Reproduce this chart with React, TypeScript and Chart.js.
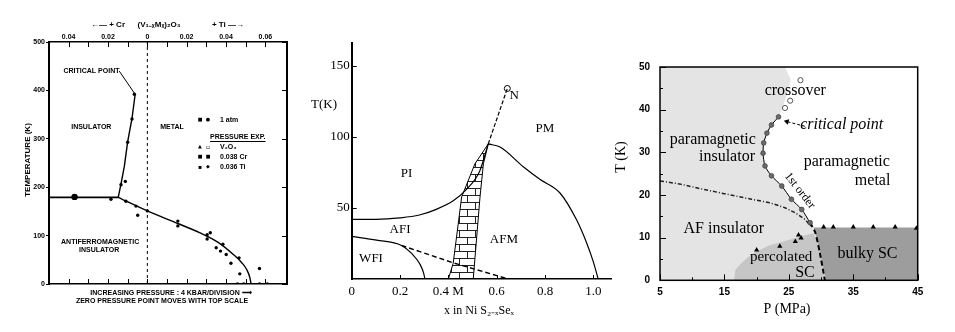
import React, { useEffect, useRef } from 'react';
import { Chart, registerables } from 'chart.js';

Chart.register(...registerables);

const W = 955;
const H = 332;

// ================= Panel 1 : (V1-xMx)2O3 =================
const p1MinorTicks = [-0.04, -0.03, -0.02, -0.01, 0, 0.01, 0.02, 0.03, 0.04, 0.05, 0.06];
const p1TopLabelTicks = [-0.04, -0.02, 0, 0.02, 0.04, 0.06];
const p1TempTicks = [0, 100, 200, 300, 400, 500];
const p1ZeroX = [0, 0];
const p1ZeroT = [0, 500];
const p1AfiX = [-0.05, -0.0148];
const p1AfiT = [179, 179];
const p1MitX = [-0.0148, -0.0135, -0.0117, -0.01, -0.0078, -0.0062];
const p1MitT = [179, 205, 243, 294, 342, 392];
const p1LeaderX = [-0.0062, -0.0143];
const p1LeaderT = [392, 440];
const p1AfX = [-0.0148, 0, 0.0155, 0.0265, 0.036, 0.0437, 0.048, 0.0505, 0.0522, 0.0527];
const p1AfT = [179, 151, 125, 106, 86, 61, 44, 30, 12, 0];
const p1PtsX = [-0.037, -0.0185, -0.0109, -0.0058, -0.0049, 0.0, 0.0155, 0.0155, 0.0304, 0.0304, 0.032, 0.035, 0.0384, 0.0372, 0.0401, 0.0425, 0.0466, 0.047, 0.0458, 0.049, 0.057, 0.057, 0.061, -0.0066, -0.0078, -0.01, -0.0112, -0.0134];
const p1PtsT = [180, 175, 171, 161, 142, 151, 130, 120, 102, 93, 106, 75, 82, 68, 61, 43, 54, 21, 0, 0, 32, 0, 0, 392, 341, 293, 212, 205];

// ================= Panel 2 : NiS2-xSex =================
const p2XTicks = [0, 0.2, 0.4, 0.6, 0.8, 1.0];
const p2XTickLabels = ['0', '0.2', '0.4 M', '0.6', '0.8', '1.0'];
const p2TTicks = [50, 100, 150];
const p2PiX = [0, 0.1, 0.2, 0.28, 0.35, 0.42, 0.475, 0.53, 0.565];
const p2PiT = [42, 42, 43, 45, 49, 55, 63, 76, 95];
const p2PmX = [0.565, 0.614, 0.71, 0.78, 0.862, 0.93, 0.972, 1.0, 1.02];
const p2PmT = [95, 92.8, 79, 70, 60.5, 41.8, 25.5, 12, 0];
const p2NX = [0.565, 0.644];
const p2NT = [95, 134];
const p2WfiX = [0, 0.103, 0.206, 0.248, 0.283, 0.298, 0.303];
const p2WfiT = [30, 27.3, 23.6, 18, 10.3, 4, 0];
const p2AfiX = [0.206, 0.42, 0.648];
const p2AfiT = [23.6, 11.4, 0];
const p2WedgeX = [0.4, 0.42, 0.455, 0.51, 0.565, 0.545, 0.531, 0.503, 0.4];
const p2WedgeT = [0, 11, 57.7, 81, 95, 81, 57.7, 0, 0];

// ================= Panel 3 : P (MPa) =================
const p3PTicks = [5, 15, 25, 35, 45];
const p3PMinor = [10, 20, 30, 40];
const p3TTicks = [0, 10, 20, 30, 40, 50];
const p3TMinor = [5, 15, 25, 35, 45];
const p3InsX = [5, 5, 24.4, 25.3, 24.6, 23.9, 23.4, 22.3, 21.6, 21.1, 21.0, 21.3, 22.3, 23.9, 25.4, 27.0, 28.3, 29.1, 29.8, 30.6];
const p3InsT = [0, 50, 50, 47, 43, 40, 38.3, 36.4, 34.5, 32.2, 29.8, 26.8, 24.5, 22.1, 19.0, 16.6, 13.5, 11.2, 6.5, 0];
const p3PercX = [16.5, 16.7, 17.7, 19.2, 21.8, 24.4, 27.0, 28.8, 29.3, 29.9, 30.8, 16.5];
const p3PercT = [0, 2.5, 4.1, 6.1, 8.1, 9.2, 10.4, 11.0, 9.5, 6.0, 0, 0];
const p3BulkX = [28.8, 45, 45, 30.8, 30.2, 29.6, 29.1, 28.8];
const p3BulkT = [12.4, 12.4, 0, 0, 4, 8, 11, 12.4];
const p3FirstX = [23.4, 22.3, 21.6, 21.1, 21.0, 21.3, 22.3, 23.9, 25.4, 27.0, 28.3];
const p3FirstT = [38.3, 36.4, 34.5, 32.2, 29.8, 26.8, 24.5, 22.1, 19.0, 16.6, 13.5];
const p3LowerX = [28.3, 29.1, 29.8, 30.6];
const p3LowerT = [13.5, 11.2, 6.5, 0];
const p3AfX = [5, 8, 11.5, 15, 19.2, 22, 24.4, 26, 27.5, 28.6];
const p3AfT = [23.3, 22.6, 21.4, 20.3, 19.0, 18.2, 17.0, 15.8, 14.3, 12.4];
const p3CrossX = [24.4, 25.2, 26.8];
const p3CrossT = [40.4, 42.1, 46.9];
const p3BulkTcX = [30.4, 31.9, 35.0, 38.1, 41.5, 44.8];
const p3BulkTcT = [12.5, 12.5, 12.5, 12.5, 12.5, 12.2];
const p3PercTcX = [20.0, 23.6, 26.0, 26.5, 26.9];
const p3PercTcT = [7.1, 8.0, 9.1, 10.6, 9.9];
const p3ArrowX = [27.5, 24.7];
const p3ArrowT = [36.1, 37.2];

const xy = (xs: number[], ys: number[]) => xs.map((x, i) => ({ x, y: ys[i] }));

type Note = { t: string; x: number; y: number; px?: boolean; font: string; align?: CanvasTextAlign; rot?: number; underline?: boolean; color?: string };

function notesPlugin(items: Note[]) {
  return {
    id: 'notes',
    afterDraw(chart: any) {
      const ctx = chart.ctx;
      for (const n of items) {
        let x = n.x;
        let y = n.y;
        if (!n.px) {
          x = chart.scales.x.getPixelForValue(n.x);
          y = chart.scales.y.getPixelForValue(n.y);
        }
        ctx.save();
        ctx.translate(x, y);
        if (n.rot) ctx.rotate((n.rot * Math.PI) / 180);
        ctx.font = n.font;
        ctx.fillStyle = n.color || '#000';
        ctx.textAlign = n.align || 'center';
        ctx.textBaseline = 'middle';
        ctx.fillText(n.t, 0, 0);
        if (n.underline) {
          const w = ctx.measureText(n.t).width;
          const x0 = n.align === 'left' ? 0 : -w / 2;
          ctx.fillRect(x0, 4, w, 1);
        }
        ctx.restore();
      }
    },
  };
}

type TickSpec = { scale: string; side: 'top' | 'bottom' | 'left' | 'right'; values: number[]; len: number; width?: number };

function innerTicksPlugin(specs: TickSpec[], frame?: number) {
  return {
    id: 'innerTicks',
    afterDatasetsDraw(chart: any) {
      const { ctx, chartArea: a } = chart;
      ctx.save();
      ctx.strokeStyle = '#000';
      if (frame) {
        ctx.lineWidth = frame;
        ctx.strokeRect(a.left, a.top, a.right - a.left, a.bottom - a.top);
      }
      for (const s of specs) {
        const sc = chart.scales[s.scale];
        ctx.lineWidth = s.width || 1;
        ctx.beginPath();
        for (const v of s.values) {
          const p = Math.round(sc.getPixelForValue(v)) + 0.5;
          if (s.side === 'bottom') { ctx.moveTo(p, a.bottom); ctx.lineTo(p, a.bottom - s.len); }
          else if (s.side === 'top') { ctx.moveTo(p, a.top); ctx.lineTo(p, a.top + s.len); }
          else if (s.side === 'left') { ctx.moveTo(a.left, p); ctx.lineTo(a.left + s.len, p); }
          else { ctx.moveTo(a.right, p); ctx.lineTo(a.right - s.len, p); }
        }
        ctx.stroke();
      }
      ctx.restore();
    },
  };
}

const line = (xs: number[], ys: number[], extra: any = {}) => ({
  data: xy(xs, ys),
  showLine: true,
  borderColor: '#000',
  backgroundColor: '#000',
  borderWidth: 1.3,
  pointRadius: 0,
  ...extra,
});

const baseOpts = { animation: false, responsive: false, devicePixelRatio: 1, events: [] as any[] };
const noLegend = { legend: { display: false }, tooltip: { enabled: false } };

// ---------- Panel 1 config
function makeP1() {
  const bf = 'bold 7px "Liberation Sans"';
  const fixedTicks = (vals: number[]) => (s: any) => { s.ticks = vals.map((v) => ({ value: v })); };
  return {
    type: 'scatter',
    data: {
      datasets: [
        line(p1ZeroX, p1ZeroT, { borderDash: [3, 3], borderWidth: 1 }),
        line(p1AfiX, p1AfiT, { borderWidth: 1.6 }),
        line(p1MitX, p1MitT, { borderWidth: 1.4 }),
        line(p1LeaderX, p1LeaderT, { borderWidth: 1 }),
        line(p1AfX, p1AfT, { borderWidth: 1.4, cubicInterpolationMode: 'monotone' }),
        {
          data: xy(p1PtsX, p1PtsT),
          showLine: false,
          pointRadius: p1PtsX.map((_, i) => (i === 0 ? 3.2 : 1.7)),
          pointBackgroundColor: '#000',
          pointBorderWidth: 0,
        },
      ],
    },
    options: {
      ...baseOpts,
      layout: { padding: { left: 0, top: 0, right: 668, bottom: 0 } },
      plugins: noLegend,
      scales: {
        x: {
          type: 'linear', position: 'bottom', min: -0.05, max: 0.071,
          afterBuildTicks: fixedTicks(p1MinorTicks),
          ticks: { display: false },
          grid: { display: false, drawTicks: false },
          border: { display: true, color: '#000', width: 1.5 },
          afterFit: (s: any) => { s.height = 48; },
        },
        x2: {
          type: 'linear', position: 'top', min: -0.05, max: 0.071,
          afterBuildTicks: fixedTicks(p1TopLabelTicks),
          ticks: {
            callback: (v: number) => (v === 0 ? '0' : Math.abs(v).toFixed(2)),
            font: { family: 'Liberation Sans', size: 7, weight: 'bold' }, color: '#000', padding: 1,
            autoSkip: false, maxRotation: 0,
          },
          grid: { display: false, drawTicks: false },
          border: { display: true, color: '#000', width: 1.5 },
          afterFit: (s: any) => { s.height = 42; },
        },
        y: {
          type: 'linear', position: 'left', min: 0, max: 500,
          afterBuildTicks: fixedTicks(p1TempTicks),
          ticks: { font: { family: 'Liberation Sans', size: 7, weight: 'bold' }, color: '#000', padding: 1 },
          grid: { display: true, drawOnChartArea: false, tickLength: 3, color: '#000' },
          border: { display: true, color: '#000', width: 2 },
          afterFit: (s: any) => { s.width = 49; },
        },
        y2: {
          type: 'linear', position: 'right', min: 0, max: 500,
          ticks: { display: false },
          grid: { display: false, drawTicks: false },
          border: { display: true, color: '#000', width: 2 },
          afterFit: (s: any) => { s.width = 0; },
        },
      },
    },
    plugins: [
      innerTicksPlugin([
        { scale: 'x', side: 'bottom', values: p1MinorTicks, len: 5 },
        { scale: 'x2', side: 'top', values: p1MinorTicks, len: 5 },
        { scale: 'y2', side: 'right', values: p1TempTicks, len: 5 },
      ]),
      notesPlugin([
        { t: '←— + Cr', x: 108, y: 25, px: true, font: 'bold 8px "Liberation Sans"' },
        { t: '(V₁₋ₓMₓ)₂O₃', x: 159, y: 25, px: true, font: 'bold 8px "Liberation Sans"' },
        { t: '+ Ti —→', x: 228, y: 25, px: true, font: 'bold 8px "Liberation Sans"' },
        { t: 'TEMPERATURE (K)', x: 28, y: 160, px: true, rot: -90, font: 'bold 8px "Liberation Sans"' },
        { t: 'INCREASING PRESSURE : 4 KBAR/DIVISION ⟶', x: 171, y: 293, px: true, font: bf },
        { t: 'ZERO PRESSURE POINT MOVES WITH TOP SCALE', x: 162, y: 301, px: true, font: bf },
        { t: 'CRITICAL POINT', x: -0.0284, y: 440, font: bf },
        { t: 'INSULATOR', x: -0.0285, y: 324, font: bf },
        { t: 'METAL', x: 0.0125, y: 324, font: bf },
        { t: 'ANTIFERROMAGNETIC', x: -0.024, y: 86, font: bf },
        { t: 'INSULATOR', x: -0.0245, y: 71, font: bf },
        { t: '■', x: 200, y: 120, px: true, font: 'bold 5px "DejaVu Sans"' },
        { t: '●', x: 208, y: 120, px: true, font: 'bold 5px "DejaVu Sans"' },
        { t: '1 atm', x: 220, y: 120, px: true, align: 'left', font: bf },
        { t: 'PRESSURE EXP.', x: 210, y: 137, px: true, align: 'left', font: bf, underline: true },
        { t: '▲', x: 200, y: 147, px: true, font: 'bold 5px "DejaVu Sans"' },
        { t: '▫', x: 208, y: 147, px: true, font: 'bold 6px "DejaVu Sans"' },
        { t: 'V₂O₃', x: 220, y: 147, px: true, align: 'left', font: bf },
        { t: '■', x: 200, y: 157, px: true, font: 'bold 5px "DejaVu Sans"' },
        { t: '■', x: 208, y: 157, px: true, font: 'bold 5px "DejaVu Sans"' },
        { t: '0.038 Cr', x: 220, y: 157, px: true, align: 'left', font: bf },
        { t: '▪', x: 200, y: 167, px: true, font: 'bold 6px "DejaVu Sans"' },
        { t: '◆', x: 208, y: 167, px: true, font: 'bold 5px "DejaVu Sans"' },
        { t: '0.036 Ti', x: 220, y: 167, px: true, align: 'left', font: bf },
      ]),
    ],
  };
}

// ---------- Panel 2 config
function makeP2() {
  const pc = document.createElement('canvas');
  pc.width = 16;
  pc.height = 14;
  const pctx = pc.getContext('2d')!;
  pctx.fillStyle = '#222';
  pctx.fillRect(0, 6, 16, 1);
  pctx.fillRect(0, 13, 16, 1);
  pctx.fillRect(3, 0, 1, 7);
  pctx.fillRect(11, 7, 1, 7);
  const pattern = pctx.createPattern(pc, 'repeat');
  const sf = '13px "Liberation Serif"';
  return {
    type: 'scatter',
    data: {
      datasets: [
        line(p2PiX, p2PiT, { borderWidth: 1.2, cubicInterpolationMode: 'monotone' }),
        line(p2PmX, p2PmT, { borderWidth: 1.2, cubicInterpolationMode: 'monotone' }),
        line(p2NX, p2NT, { borderWidth: 1.2, borderDash: [4, 2] }),
        {
          data: xy([p2NX[1]], [p2NT[1]]), showLine: false, pointRadius: 3,
          pointBackgroundColor: '#fff', pointBorderColor: '#000', pointBorderWidth: 1,
        },
        line(p2WfiX, p2WfiT, { borderWidth: 1.2, cubicInterpolationMode: 'monotone' }),
        line(p2AfiX, p2AfiT, { borderWidth: 1.4, borderDash: [5, 3] }),
        line(p2WedgeX, p2WedgeT, { borderWidth: 1, fill: 'shape', backgroundColor: pattern }),
      ],
    },
    options: {
      ...baseOpts,
      layout: { padding: { left: 311.7, top: 43, right: 343.3, bottom: 13 } },
      plugins: noLegend,
      scales: {
        x: {
          type: 'linear', position: 'bottom', min: 0, max: 1.076,
          afterBuildTicks: (s: any) => { s.ticks = p2XTicks.map((v) => ({ value: v })); },
          ticks: {
            callback: (v: number) => p2XTickLabels[p2XTicks.indexOf(v)] ?? '',
            font: { family: 'Liberation Serif', size: 13 }, color: '#000', padding: 5,
            autoSkip: false, maxRotation: 0,
          },
          grid: { display: false, drawTicks: false },
          border: { display: true, color: '#000', width: 1.5 },
          afterFit: (s: any) => { s.height = 40; },
        },
        y: {
          type: 'linear', position: 'left', min: 0, max: 166,
          afterBuildTicks: (s: any) => { s.ticks = p2TTicks.map((v) => ({ value: v })); },
          ticks: { font: { family: 'Liberation Serif', size: 13 }, color: '#000', padding: 2 },
          grid: { display: false, drawTicks: false },
          border: { display: true, color: '#000', width: 2 },
          afterFit: (s: any) => { s.width = 40; },
        },
      },
    },
    plugins: [
      innerTicksPlugin([
        { scale: 'x', side: 'bottom', values: p2XTicks, len: 4 },
        { scale: 'y', side: 'left', values: p2TTicks, len: 5 },
      ]),
      notesPlugin([
        { t: 'PI', x: 0.227, y: 74.5, font: sf },
        { t: 'AFI', x: 0.2, y: 34.6, font: sf },
        { t: 'WFI', x: 0.08, y: 14.6, font: sf },
        { t: 'AFM', x: 0.63, y: 27.8, font: sf },
        { t: 'PM', x: 0.8, y: 105.7, font: sf },
        { t: 'N', x: 0.672, y: 129, font: sf },
        { t: 'T(K)', x: 324, y: 105, px: true, font: sf },
        { t: 'x in Ni S₂₋ₓSeₓ', x: 479, y: 311, px: true, font: '12px "Liberation Serif"' },
      ]),
    ],
  };
}

// ---------- Panel 3 config
function makeP3() {
  const serif = (s: number, it = false) => `${it ? 'italic ' : ''}${s}px "Liberation Serif"`;
  const fillShape = (xs: number[], ys: number[], color: string, order: number) => ({
    data: xy(xs, ys), showLine: true, fill: 'shape', backgroundColor: color,
    borderColor: 'rgba(0,0,0,0)', borderWidth: 0, pointRadius: 0, order,
  });
  const tickFont = { family: 'Liberation Sans', size: 10, weight: 'bold' };
  return {
    type: 'scatter',
    data: {
      datasets: [
        fillShape(p3InsX, p3InsT, '#e4e4e4', 20),
        fillShape(p3PercX, p3PercT, '#c6c6c6', 19),
        fillShape(p3BulkX, p3BulkT, '#9d9d9d', 18),
        line(p3AfX, p3AfT, { borderWidth: 1.5, borderDash: [4, 2, 1, 2], order: 6, borderColor: '#222' }),
        line(p3FirstX, p3FirstT, {
          borderWidth: 1, tension: 0.25, order: 5, pointRadius: 2.4,
          pointBackgroundColor: '#6a6a6a', pointBorderColor: '#333', pointBorderWidth: 0.6,
        }),
        line(p3LowerX, p3LowerT, { borderWidth: 2, borderDash: [5, 3], order: 5, tension: 0.2 }),
        line(p3ArrowX, p3ArrowT, {
          borderWidth: 1, borderDash: [3, 2], order: 4,
          pointRadius: [0, 3.2], pointStyle: 'triangle', pointRotation: [0, -75],
          pointBackgroundColor: '#000', pointBorderWidth: 0,
        }),
        {
          data: xy(p3BulkTcX, p3BulkTcT), showLine: false, pointStyle: 'triangle', pointRadius: 3,
          pointBackgroundColor: '#000', pointBorderWidth: 0, order: 2,
        },
        {
          data: xy(p3PercTcX, p3PercTcT), showLine: false, pointStyle: 'triangle', pointRadius: 3,
          pointBackgroundColor: '#000', pointBorderWidth: 0, order: 2,
        },
        {
          data: xy(p3CrossX, p3CrossT), showLine: false, pointStyle: 'circle', pointRadius: 2.6,
          pointBackgroundColor: '#fff', pointBorderColor: '#555', pointBorderWidth: 1, order: 2,
        },
      ],
    },
    options: {
      ...baseOpts,
      layout: { padding: { left: 610, top: 67, right: 37.3, bottom: 0 } },
      plugins: noLegend,
      scales: {
        x: {
          type: 'linear', position: 'bottom', min: 5, max: 45,
          afterBuildTicks: (s: any) => { s.ticks = p3PTicks.map((v) => ({ value: v })); },
          ticks: { font: tickFont, color: '#000', padding: 6, autoSkip: false, maxRotation: 0 },
          grid: { display: false, drawTicks: false },
          border: { display: false },
          afterFit: (s: any) => { s.height = 51.7; },
        },
        y: {
          type: 'linear', position: 'left', min: 0, max: 50,
          afterBuildTicks: (s: any) => { s.ticks = p3TTicks.map((v) => ({ value: v })); },
          ticks: { font: tickFont, color: '#000', padding: 10 },
          grid: { display: false, drawTicks: false },
          border: { display: false },
          afterFit: (s: any) => { s.width = 50; },
        },
      },
    },
    plugins: [
      innerTicksPlugin(
        [
          { scale: 'x', side: 'bottom', values: p3PTicks, len: 6 },
          { scale: 'x', side: 'bottom', values: p3PMinor, len: 3 },
          { scale: 'y', side: 'left', values: p3TTicks, len: 6 },
          { scale: 'y', side: 'left', values: p3TMinor, len: 3 },
        ],
        1.5,
      ),
      notesPlugin([
        { t: 'crossover', x: 26.0, y: 44.5, font: serif(16) },
        { t: 'critical point', x: 33.2, y: 36.5, font: serif(16, true) },
        { t: 'paramagnetic', x: 13.2, y: 32.9, font: serif(16) },
        { t: 'insulator', x: 15.4, y: 29.0, font: serif(16) },
        { t: 'paramagnetic', x: 34.0, y: 27.8, font: serif(16) },
        { t: 'metal', x: 38.0, y: 23.3, font: serif(16) },
        { t: '1st order', x: 26.7, y: 21.0, rot: 52, font: serif(12) },
        { t: 'AF insulator', x: 14.9, y: 12.0, font: serif(16) },
        { t: 'percolated', x: 23.8, y: 5.5, font: serif(15) },
        { t: 'SC', x: 27.5, y: 1.8, font: serif(16) },
        { t: 'bulky SC', x: 37.2, y: 6.1, font: serif(16) },
        { t: 'T (K)', x: 621.7, y: 157, px: true, rot: -90, font: serif(14) },
        { t: 'P (MPa)', x: 787, y: 309, px: true, font: serif(14) },
      ]),
    ],
  };
}

function ChartPanel({ make }: { make: () => any }) {
  const ref = useRef<HTMLCanvasElement>(null);
  useEffect(() => {
    const chart = new Chart(ref.current as HTMLCanvasElement, make());
    return () => chart.destroy();
  }, []);
  return <canvas ref={ref} width={W} height={H} style={{ position: 'absolute', left: 0, top: 0, width: W, height: H }} />;
}

export default function App() {
  return (
    <div style={{ position: 'absolute', left: 0, top: 0, width: W, height: H, background: '#fff', overflow: 'hidden' }}>
      <ChartPanel make={makeP1} />
      <ChartPanel make={makeP2} />
      <ChartPanel make={makeP3} />
    </div>
  );
}
